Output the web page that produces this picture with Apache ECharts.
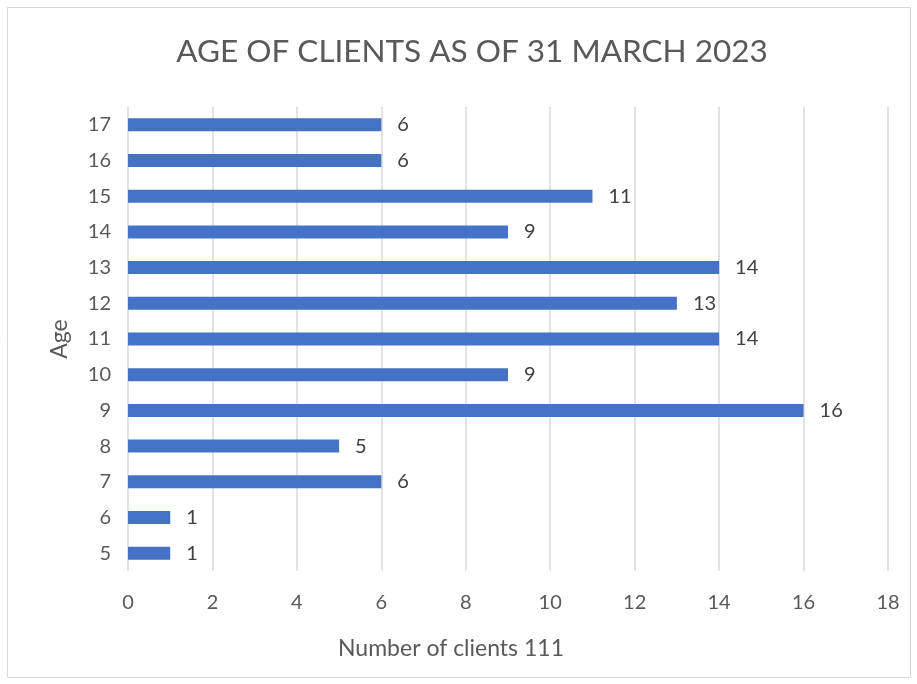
<!DOCTYPE html>
<html><head><meta charset="utf-8">
<script src="https://cdn.jsdelivr.net/npm/echarts@6/dist/echarts.min.js"></script>
<style>html,body{margin:0;padding:0;background:#fff}#c{width:917px;height:684px}</style>
</head><body><div id="c"></div>
<script>
const titleText = 'AGE OF CLIENTS AS OF 31 MARCH 2023';
const ages = ['5','6','7','8','9','10','11','12','13','14','15','16','17'];
const clients = [1,1,6,5,16,9,14,13,14,9,11,6,6];
const xTitle = 'Number of clients 111';
const yTitle = 'Age';
const font = 'Lato, "Open Sans", sans-serif';
const chart = echarts.init(document.getElementById('c'));
chart.setOption({
  animation:false,
  graphic:[{type:'rect',shape:{x:7.5,y:7.5,width:903,height:670},style:{fill:'none',stroke:'#d9d9d9',lineWidth:1}}],
  title:{text:titleText,left:467,textAlign:'center',top:31,textStyle:{fontFamily:font,fontSize:31.5,fontWeight:'normal',color:'#595959'}},
  grid:{left:128,right:29,top:107,bottom:113},
  xAxis:{type:'value',min:0,max:18,interval:2,
    name:xTitle,nameLocation:'middle',nameGap:66,nameTextStyle:{fontFamily:font,fontSize:23,color:'#595959',padding:[0,114,0,0]},
    axisLine:{show:false},axisTick:{show:false},
    axisLabel:{fontFamily:font,fontSize:20,color:'#595959',margin:22},
    splitLine:{lineStyle:{color:'#d9d9d9',width:1.5}}},
  yAxis:{type:'category',data:ages,
    name:yTitle,nameLocation:'middle',nameGap:57,nameRotate:90,nameTextStyle:{fontFamily:font,fontSize:23,color:'#595959'},
    axisLine:{show:false},axisTick:{show:false},
    axisLabel:{fontFamily:font,fontSize:20,color:'#595959',margin:17}},
  series:[{type:'bar',data:clients,barWidth:13,itemStyle:{color:'#4472c4'},
    label:{show:true,position:'right',distance:16,fontFamily:font,fontSize:20,color:'#404040'}}]
});
</script></body></html>
